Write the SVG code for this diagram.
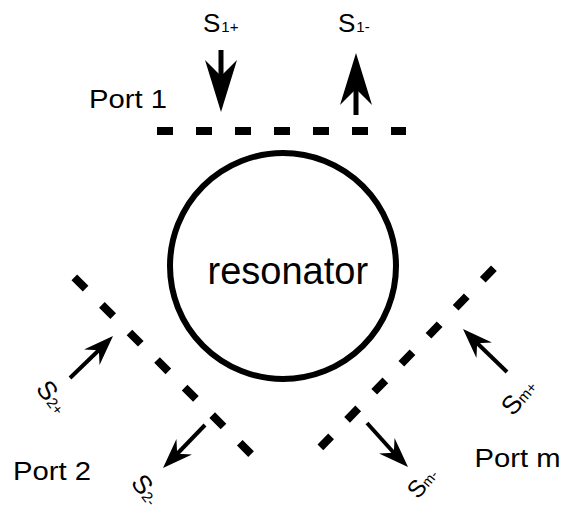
<svg xmlns="http://www.w3.org/2000/svg" width="566" height="508" viewBox="0 0 566 508">
<style>
  .lbl { font-family: "Liberation Sans", Arial, sans-serif; fill: #000; }
  .port { stroke: #000; stroke-width: 8; stroke-dasharray: 16 23; fill: none; }
  .shaftB { stroke: #000; stroke-width: 5; fill: none; }
  .shaftS { stroke: #000; stroke-width: 4; fill: none; }
  .head { fill: #000; stroke: none; }
</style>
<defs>
  <path id="hb" d="M0,0 L-52,-16 L-36,0 L-52,16 Z"/>
  <path id="hs" d="M0,0 L-30,-11 L-20,0 L-30,11 Z"/>
</defs>
<rect width="566" height="508" fill="#fff"/>
<g id="resonator">
  <circle cx="283" cy="266" r="113" fill="none" stroke="#000" stroke-width="6"/>
  <text class="lbl" x="207.5" y="284" font-size="38">resonator</text>
</g>
<g id="port1">
  <line class="port" x1="157" y1="131" x2="406" y2="131"/>
  <text class="lbl" x="89" y="108" font-size="25" textLength="78" lengthAdjust="spacingAndGlyphs">Port 1</text>
</g>
<g id="port2">
  <line class="port" x1="74.3" y1="277.3" x2="251.3" y2="454.3"/>
  <text class="lbl" x="13" y="480" font-size="25" textLength="78" lengthAdjust="spacingAndGlyphs">Port 2</text>
</g>
<g id="portm">
  <line class="port" x1="493.9" y1="268.3" x2="320.4" y2="447.4"/>
  <text class="lbl" x="474.5" y="467" font-size="25" textLength="86" lengthAdjust="spacingAndGlyphs">Port m</text>
</g>
<g id="connectors">
  <g id="s1plus">
    <line class="shaftB" x1="221" y1="50" x2="221" y2="80"/>
    <use href="#hb" class="head" transform="translate(221,112) rotate(90)"/>
    <text class="lbl" x="203" y="32" font-size="26">S<tspan font-size="15" dx="1">1+</tspan></text>
  </g>
  <g id="s1minus">
    <line class="shaftB" x1="356" y1="115" x2="356" y2="85"/>
    <use href="#hb" class="head" transform="translate(356,53) rotate(-90)"/>
    <text class="lbl" x="338" y="32" font-size="26">S<tspan font-size="15" dx="1">1-</tspan></text>
  </g>
  <g id="s2plus">
    <line class="shaftS" x1="70" y1="378" x2="99" y2="350"/>
    <use href="#hs" class="head" transform="translate(113,336) rotate(-45)"/>
    <text class="lbl" transform="translate(35,389) rotate(52)" font-size="26">S<tspan font-size="15">2+</tspan></text>
  </g>
  <g id="s2minus">
    <line class="shaftS" x1="205" y1="425" x2="177" y2="454"/>
    <use href="#hs" class="head" transform="translate(163,468) rotate(135)"/>
    <text class="lbl" transform="translate(130,483) rotate(52)" font-size="26">S<tspan font-size="15">2-</tspan></text>
  </g>
  <g id="smplus">
    <line class="shaftS" x1="507" y1="372" x2="477" y2="343"/>
    <use href="#hs" class="head" transform="translate(463,329) rotate(-135)"/>
    <text class="lbl" transform="translate(513,417) rotate(-50)" font-size="26">S<tspan font-size="15">m+</tspan></text>
  </g>
  <g id="smminus">
    <line class="shaftS" x1="367" y1="423" x2="394" y2="453"/>
    <use href="#hs" class="head" transform="translate(408,467) rotate(45)"/>
    <text class="lbl" transform="translate(418,500) rotate(-50)" font-size="24">S<tspan font-size="14">m-</tspan></text>
  </g>
</g>
</svg>
